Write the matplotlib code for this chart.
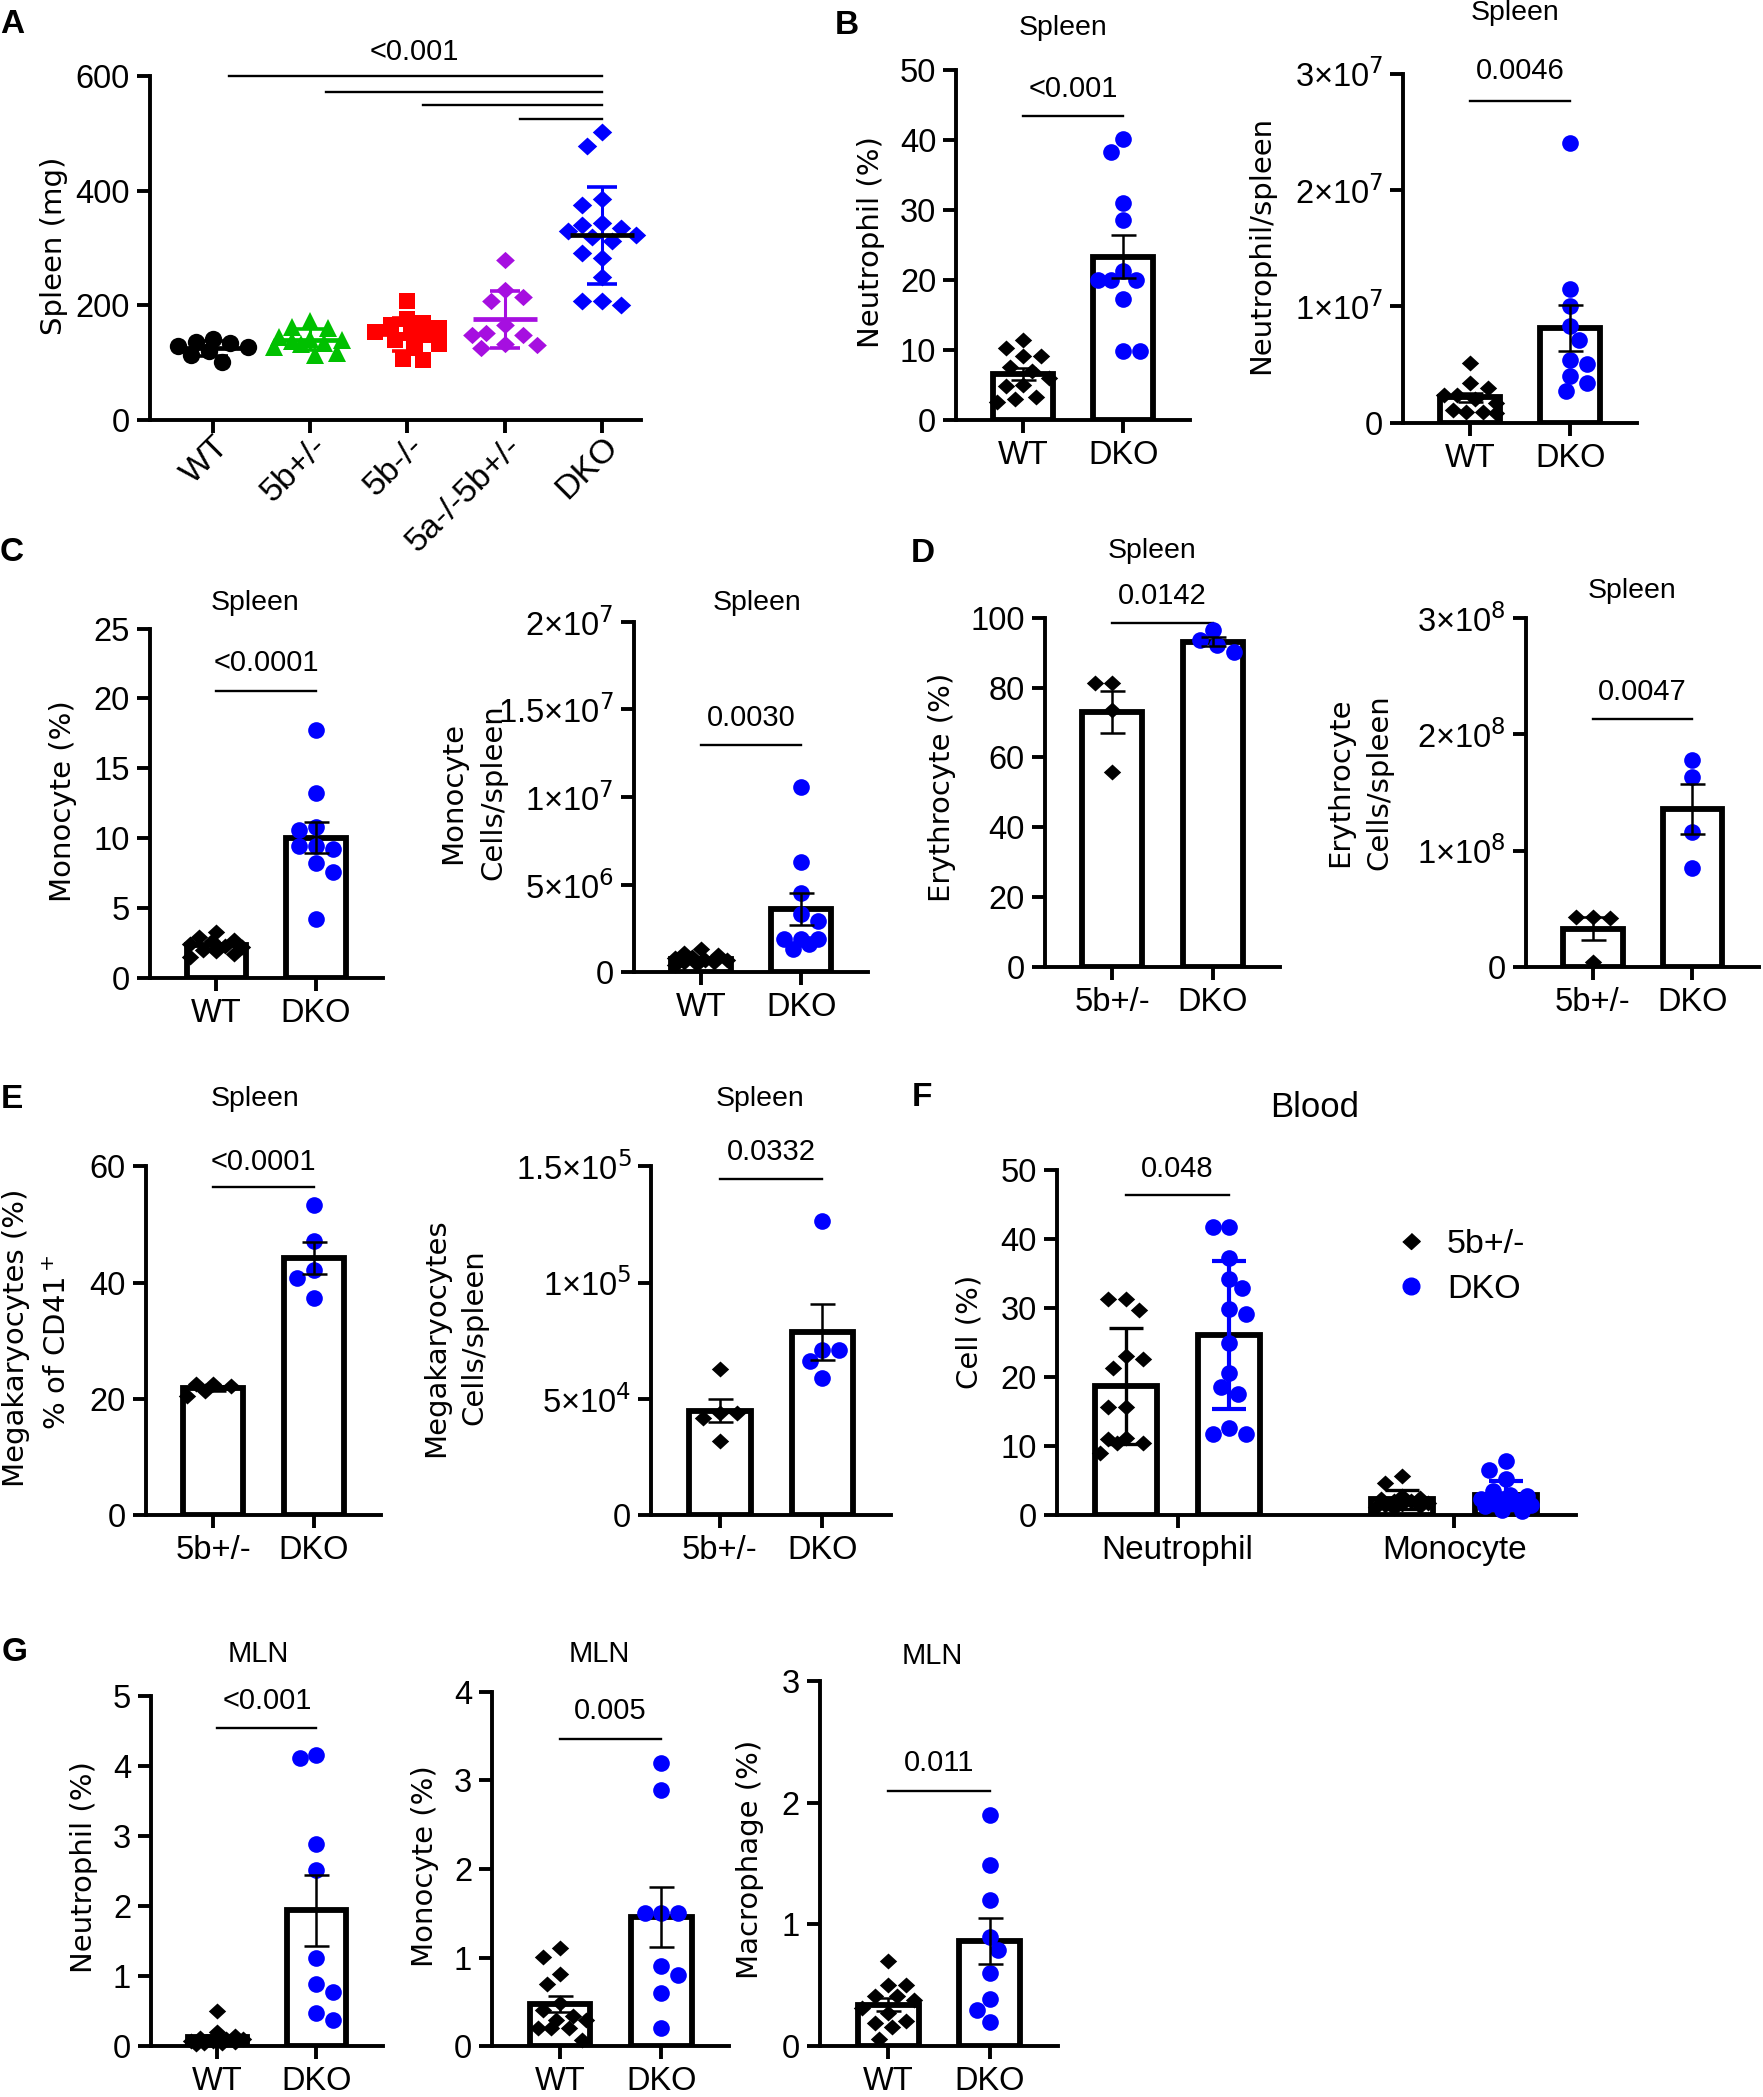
import numpy as np
import matplotlib
matplotlib.use("Agg")
import matplotlib.pyplot as plt
from matplotlib.lines import Line2D

# ---------------- values ----------------
# A: spleen weight (mg), scatter with mean +/- SD
a_labels = ["WT", "5b+/-", "5b-/-", "5a-/-5b+/-", "DKO"]
a_wt = [128, 136, 129, 141, 134, 120, 113, 101]
a_5b_het = [172, 163, 160, 145, 140, 138, 142, 135, 132, 128, 116, 113]
a_5b_ko = [207, 176, 170, 166, 160, 154, 151, 148, 140, 132, 126, 107, 104]
a_5a5b = [280, 226, 215, 207, 166, 151, 149, 149, 132, 130, 126]
a_dko = [503, 479, 386, 376, 344, 341, 335, 330, 322, 319, 313, 291, 282, 250, 207, 200, 207]

# B: spleen neutrophils
b_pct_wt = [11.4, 10.2, 9.1, 9.1, 7.6, 7.0, 6.0, 5.0, 4.8, 3.3, 3.0, 2.6]
b_pct_dko = [40.1, 38.3, 31.0, 28.5, 21.3, 20.0, 20.0, 20.0, 17.2, 9.8, 9.8]
b_num_wt = [0.51, 0.34, 0.30, 0.24, 0.24, 0.20, 0.17, 0.11, 0.095, 0.095, 0.08]   # x1e7
b_num_dko = [2.40, 1.15, 1.00, 0.83, 0.71, 0.54, 0.50, 0.40, 0.34, 0.27]         # x1e7

# C: spleen monocytes
c_pct_wt = [3.3, 2.9, 2.7, 2.6, 2.4, 2.3, 2.2, 2.0, 1.9, 1.7, 1.5]
c_pct_dko = [17.7, 13.2, 10.8, 10.6, 9.4, 9.4, 9.2, 8.2, 7.6, 4.2]
c_num_wt = [1.3, 1.1, 1.0, 0.9, 0.8, 0.7, 0.7, 0.6, 0.6, 0.5, 0.4]               # x1e6
c_num_dko = [10.6, 6.3, 4.5, 3.3, 2.95, 1.9, 1.9, 1.9, 1.6, 1.3]                 # x1e6

# D: spleen erythrocytes
d_pct_het = [81.2, 81.2, 73.5, 55.9]
d_pct_dko = [96.5, 93.6, 92.2, 90.3]
d_num_het = [0.43, 0.43, 0.42, 0.04]                                            # x1e8
d_num_dko = [1.78, 1.63, 1.16, 0.85]                                            # x1e8

# E: spleen megakaryocytes
e_pct_het = [22.5, 22.5, 22.2, 21.4, 20.5]
e_pct_dko = [53.4, 47.1, 42.2, 40.8, 37.4]
e_num_het = [6.27, 4.4, 4.4, 4.2, 3.2]                                          # x1e4
e_num_dko = [12.63, 7.12, 7.12, 6.62, 5.9]                                      # x1e4

# F: blood, mean +/- SD
f_cells = ["Neutrophil", "Monocyte"]
f_neu_het = [31.3, 31.3, 29.8, 23.1, 22.6, 21.4, 15.7, 15.7, 11.2, 11.0, 10.4, 10.4, 9.0]
f_neu_dko = [41.7, 41.7, 37.3, 34.3, 32.9, 29.9, 29.2, 25.0, 20.6, 18.6, 17.6, 12.7, 11.8, 11.8]
f_mono_het = [5.7, 4.6, 2.8, 2.5, 2.3, 2.1, 2.0, 1.8, 1.6, 1.5, 1.3, 1.2, 1.0]
f_mono_dko = [7.8, 6.6, 5.2, 3.5, 3.0, 2.8, 2.3, 2.3, 2.0, 1.8, 1.8, 1.5, 1.3, 0.8, 0.6]

# G: mesenteric lymph node
g_neu_wt = [0.5, 0.2, 0.15, 0.12, 0.1, 0.1, 0.08, 0.07, 0.06, 0.05, 0.04, 0.03]
g_neu_dko = [4.16, 4.11, 2.88, 2.52, 1.26, 0.89, 0.78, 0.48, 0.38]
g_mono_wt = [1.11, 1.01, 0.81, 0.70, 0.49, 0.41, 0.34, 0.30, 0.30, 0.21, 0.21, 0.21, 0.075]
g_mono_dko = [3.20, 2.89, 1.50, 1.50, 1.50, 0.90, 0.80, 0.60, 0.21]
g_mac_wt = [0.70, 0.50, 0.50, 0.41, 0.41, 0.38, 0.31, 0.27, 0.21, 0.19, 0.16, 0.06]
g_mac_dko = [1.90, 1.49, 1.20, 0.90, 0.79, 0.60, 0.39, 0.30, 0.20]

wt_dko = ["WT", "DKO"]
het_dko = ["5b+/-", "DKO"]

# ---------------- style ----------------
SANS = ["Liberation Sans", "DejaVu Sans"]
WIDE = ["DejaVu Sans"]
plt.rcParams["font.family"] = SANS

BLUE = "#0000FF"
GREEN = "#00C000"
RED = "#FF0000"
PURPLE = "#A60FE0"
PT = 100 / 72.0
TICK_FS = 23.5
DIAMOND = [(0, 0.92), (1, 0), (0, -0.92), (-1, 0)]
MS_DIA = 12.5
MS_DOT = 12

W, H = 1318.0, 1568.0   # layout grid (reference shown at this size)
fig = plt.figure(figsize=(17.63, 20.97), dpi=100)


def axes_at(left, top, right, bottom):
    return fig.add_axes([left / W, 1 - bottom / H, (right - left) / W, (bottom - top) / H])


def ftext(x, y, s, **kw):
    kw.setdefault("ha", "center")
    kw.setdefault("va", "center")
    fig.text(x / W, 1 - y / H, s, **kw)


def style(ax, xlim, ylim, yticks, yticklabels, xticks, xticklabels, xfs=TICK_FS):
    ax.set_xlim(*xlim)
    ax.set_ylim(*ylim)
    for s in ["top", "right"]:
        ax.spines[s].set_visible(False)
    for s in ["left", "bottom"]:
        ax.spines[s].set_linewidth(2.8)
    ax.set_yticks(yticks)
    ax.set_yticklabels(yticklabels, fontsize=TICK_FS)
    ax.set_xticks(xticks)
    ax.set_xticklabels(xticklabels, fontsize=xfs)
    ax.tick_params(width=2.8, length=9.5, pad=5)
    ax.patch.set_visible(False)


def swarm(ax, xc, vals, size_px, maxw):
    """spread points sideways (within +/- maxw data units) so they overlap as little as possible"""
    vals = np.asarray(vals, float)
    pts = ax.transData.transform(np.column_stack([np.full(len(vals), xc), vals]))
    x0 = pts[0, 0]
    ys = pts[:, 1]
    maxpx = abs(ax.transData.transform((xc + maxw, 0))[0] - x0)
    step = size_px * 0.25
    n = int(maxpx // step)
    cands = sorted([k * step for k in range(-n, n + 1)], key=lambda d: (abs(d), -d))
    offs = np.zeros(len(vals))
    placed = []
    for j, i in enumerate(np.argsort(-ys)):
        best, bestd = 0.0, -1.0
        for dx in cands:
            if j % 2:
                dx = -dx
            d = min([np.hypot(dx - px, ys[i] - py) for px, py in placed] or [1e9])
            if d >= 0.92 * size_px:
                best = dx
                break
            if d > bestd:
                best, bestd = dx, d
        offs[i] = best
        placed.append((best, ys[i]))
    back = ax.transData.inverted().transform(np.column_stack([x0 + offs, ys]))
    return back[:, 0]


def draw_bar(ax, x, vals, color, marker, ms, width=0.6, kind="sem", ecolor="black",
             elw=1.8, capsize=9):
    vals = np.asarray(vals, float)
    mean = vals.mean()
    err = vals.std(ddof=1)
    if kind == "sem":
        err = err / np.sqrt(len(vals))
    ax.bar(x, mean, width=width, color="white", edgecolor="black", linewidth=4.2, zorder=2)
    xs = swarm(ax, x, vals, ms * PT, width * 0.45)
    ax.plot(xs, vals, ls="none", marker=marker, ms=ms, mfc=color, mec=color, mew=0,
            zorder=3, clip_on=False)
    ax.errorbar(x, mean, yerr=err, fmt="none", ecolor=ecolor, elinewidth=elw,
                capsize=capsize, capthick=elw, zorder=4)


def pline(ax, x0, x1, y, ytext, label, fs=21):
    ax.plot([x0, x1], [y, y], color="black", lw=1.7, clip_on=False)
    ax.text((x0 + x1) / 2, ytext, label, ha="center", va="center", fontsize=fs, clip_on=False)


def two_bar(rect, groups, labels, ylim, yticks, yticklabels, pval, p_y, p_ty):
    ax = axes_at(*rect)
    style(ax, (-0.67, 1.67), ylim, yticks, yticklabels, [0, 1], labels)
    draw_bar(ax, 0, groups[0], "black", DIAMOND, MS_DIA)
    draw_bar(ax, 1, groups[1], BLUE, "o", MS_DOT)
    pline(ax, 0, 1, p_y, p_ty, pval)
    return ax


def sci(m, e):
    return f"{m}\u00d710$^{{{e}}}$"


YL = dict(rotation=90, fontsize=21, family=WIDE)

# ---------------- A ----------------
ax = axes_at(112, 57, 479, 314)
style(ax, (-0.65, 4.4), (0, 600), [0, 200, 400, 600], ["0", "200", "400", "600"],
      range(5), [""] * 5)
a_groups = [a_wt, a_5b_het, a_5b_ko, a_5a5b, a_dko]
a_colors = ["black", GREEN, RED, PURPLE, BLUE]
a_markers = ["o", "^", "s", DIAMOND, DIAMOND]
a_ms = [12.5, 13, 11.5, 13.5, 14]
for i, vals in enumerate(a_groups):
    vals = np.asarray(vals, float)
    xs = swarm(ax, i, vals, a_ms[i] * PT, 0.38)
    ax.plot(xs, vals, ls="none", marker=a_markers[i], ms=a_ms[i], mfc=a_colors[i],
            mec=a_colors[i], mew=0, zorder=3, clip_on=False)
    m, sd = vals.mean(), vals.std(ddof=1)
    ax.errorbar(i, m, yerr=sd, fmt="none", ecolor=a_colors[i], elinewidth=2.2,
                capsize=11, capthick=2.6, zorder=4)
    ax.hlines(m, i - 0.33, i + 0.33, color="black" if i in (0, 4) else a_colors[i],
              lw=3.4, zorder=5)
for i, y in zip(range(4), [600, 573, 549, 525]):
    ax.plot([i + 0.16, 4], [y, y], color="black", lw=1.7, clip_on=False)
ax.text(2.07, 643, "<0.001", ha="center", va="center", fontsize=21, clip_on=False)
for i, lab in enumerate(a_labels):
    ax.text(i + 0.12, -38, lab, rotation=45, ha="right", va="center",
            rotation_mode="anchor", fontsize=24.5)
ftext(40, 184, "Spleen (mg)", **YL)

# ---------------- B ----------------
two_bar((715, 52, 890, 314), [b_pct_wt, b_pct_dko], wt_dko, (0, 50),
        range(0, 51, 10), [str(v) for v in range(0, 51, 10)], "<0.001", 43.4, 47.2)
ftext(651, 181, "Neutrophil (%)", **YL)
ftext(795, 21, "Spleen", fontsize=20.5)

two_bar((1049, 55, 1224, 316), [np.array(b_num_wt) * 1e7, np.array(b_num_dko) * 1e7],
        wt_dko, (0, 3e7), [0, 1e7, 2e7, 3e7], ["0", sci(1, 7), sci(2, 7), sci(3, 7)],
        "0.0046", 2.76e7, 3.02e7)
ftext(943, 183, "Neutrophil/spleen", **YL)
ftext(1133, 10, "Spleen", fontsize=20.5)

# ---------------- C ----------------
two_bar((112, 470, 286, 731), [c_pct_wt, c_pct_dko], wt_dko, (0, 25),
        range(0, 26, 5), [str(v) for v in range(0, 26, 5)], "<0.0001", 20.5, 22.5)
ftext(47, 599, "Monocyte (%)", **YL)
ftext(191, 451, "Spleen", fontsize=20.5)

two_bar((474, 465, 649, 727), [np.array(c_num_wt) * 1e6, np.array(c_num_dko) * 1e6],
        wt_dko, (0, 2e7), [0, 5e6, 1e7, 1.5e7, 2e7],
        ["0", sci(5, 6), sci(1, 7), sci(1.5, 7), sci(2, 7)], "0.0030", 1.295e7, 1.45e7)
ftext(339, 593, "Monocyte", **YL)
ftext(369, 592, "Cells/spleen", **YL)
ftext(566, 451, "Spleen", fontsize=20.5)

# ---------------- D ----------------
two_bar((781, 462, 957, 723), [d_pct_het, d_pct_dko], het_dko, (0, 100),
        range(0, 101, 20), [str(v) for v in range(0, 101, 20)], "0.0142", 98.6, 106.3)
ftext(704, 589, "Erythrocyte (%)", **YL)
ftext(861, 412, "Spleen", fontsize=20.5)

two_bar((1141, 462, 1315, 723), [np.array(d_num_het) * 1e8, np.array(d_num_dko) * 1e8],
        het_dko, (0, 3e8), [0, 1e8, 2e8, 3e8], ["0", sci(1, 8), sci(2, 8), sci(3, 8)],
        "0.0047", 2.13e8, 2.36e8)
ftext(1002, 585, "Erythrocyte", **YL)
ftext(1031, 585, "Cells/spleen", **YL)
ftext(1220, 442, "Spleen", fontsize=20.5)

# ---------------- E ----------------
two_bar((109, 872, 285, 1133), [e_pct_het, e_pct_dko], het_dko, (0, 60),
        range(0, 61, 20), [str(v) for v in range(0, 61, 20)], "<0.0001", 56.4, 60.8)
ftext(12, 1000, "Megakaryocytes (%)", **YL)
ftext(43, 1004, "% of CD41$^+$", **YL)
ftext(191, 822, "Spleen", fontsize=20.5)

two_bar((487, 872, 666, 1133), [np.array(e_num_het) * 1e4, np.array(e_num_dko) * 1e4],
        het_dko, (0, 1.5e5), [0, 5e4, 1e5, 1.5e5],
        ["0", sci(5, 4), sci(1, 5), sci(1.5, 5)], "0.0332", 1.445e5, 1.56e5)
ftext(326, 1000, "Megakaryocytes", **YL)
ftext(355, 1000, "Cells/spleen", **YL)
ftext(568, 822, "Spleen", fontsize=20.5)

# ---------------- F ----------------
ax = axes_at(790, 875, 1178, 1133)
style(ax, (-0.437, 1.44), (0, 50), range(0, 51, 10), [str(v) for v in range(0, 51, 10)],
      [0, 1], f_cells, xfs=24)
for gi, (het, dko) in enumerate([(f_neu_het, f_neu_dko), (f_mono_het, f_mono_dko)]):
    draw_bar(ax, gi - 0.187, het, "black", DIAMOND, MS_DIA, width=0.225, kind="sd",
             ecolor="black", elw=2.4, capsize=12)
    draw_bar(ax, gi + 0.187, dko, BLUE, "o", MS_DOT, width=0.225, kind="sd",
             ecolor=BLUE, elw=3.0, capsize=12)
pline(ax, -0.187, 0.187, 46.4, 50.2, "0.048")
handles = [Line2D([], [], ls="none", marker=DIAMOND, ms=MS_DIA, color="black"),
           Line2D([], [], ls="none", marker="o", ms=MS_DOT, color=BLUE)]
ax.legend(handles, ["5b+/-", "DKO"], frameon=False, fontsize=24.5, loc="upper left",
          bbox_to_anchor=(0.65, 0.83), handlelength=1.0, handletextpad=0.55,
          labelspacing=0.42, borderaxespad=0, borderpad=0)
ftext(725, 996, "Cell (%)", **YL)
ftext(983, 828, "Blood", fontsize=25)

# ---------------- G ----------------
two_bar((113, 1268, 286, 1530), [g_neu_wt, g_neu_dko], wt_dko, (0, 5),
        range(0, 6), [str(v) for v in range(0, 6)], "<0.001", 4.54, 4.92)
ftext(63, 1396, "Neutrophil (%)", **YL)
ftext(193, 1237, "MLN", fontsize=21)

two_bar((368, 1265, 545, 1530), [g_mono_wt, g_mono_dko], wt_dko, (0, 4),
        range(0, 5), [str(v) for v in range(0, 5)], "0.005", 3.47, 3.78)
ftext(318, 1395, "Monocyte (%)", **YL)
ftext(448, 1237, "MLN", fontsize=21)

two_bar((613, 1257, 791, 1530), [g_mac_wt, g_mac_dko], wt_dko, (0, 3),
        range(0, 4), [str(v) for v in range(0, 4)], "0.011", 2.10, 2.33)
ftext(561, 1390, "Macrophage (%)", **YL)
ftext(697, 1238, "MLN", fontsize=21)

# panel letters
for letter, x, y in [("A", 9, 18), ("B", 633, 19), ("C", 9, 413), ("D", 690, 414),
                     ("E", 9, 822), ("F", 689, 821), ("G", 11, 1236)]:
    ftext(x, y, letter, fontsize=24, fontweight="bold")

fig.savefig("out.png", dpi=100)
